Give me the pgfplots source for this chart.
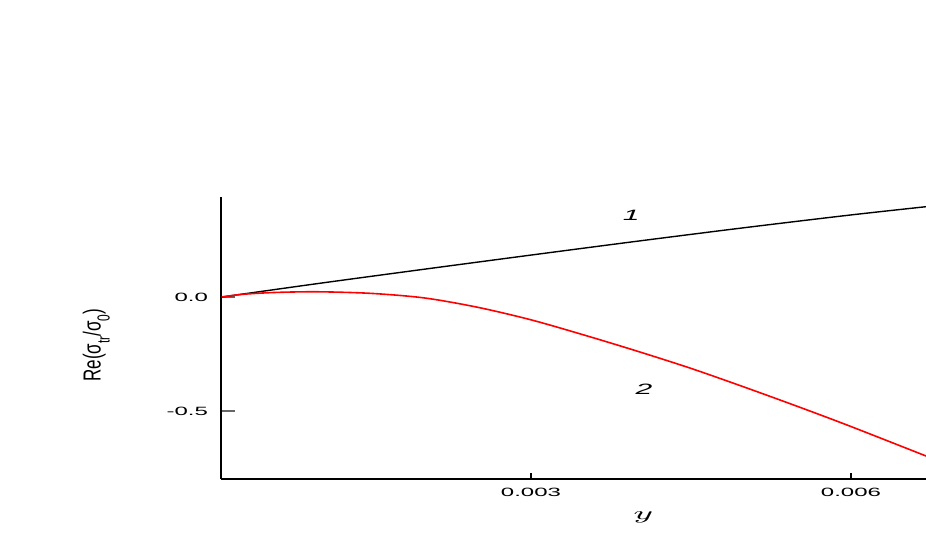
\documentclass[border=0pt]{standalone}
\usepackage{fontspec}
\setmainfont{Liberation Sans}
\usepackage{graphicx}
\usepackage{pgfplots}
\pgfplotsset{compat=1.18}
% the original picture is stretched about 2x horizontally
\newcommand{\wide}[1]{\scalebox{2}[1]{#1}}

\begin{document}
\begin{tikzpicture}[x=1pt,y=1pt]
\useasboundingbox (0,0) rectangle (463,272.5);
\begin{axis}[
    at={(110.5pt,33pt)}, anchor=south west,
    scale only axis,
    width=352.5pt, height=141pt,
    xmin=0.0000938, xmax=0.006703,
    ymin=-0.798, ymax=0.4386,
    axis lines=left,
    axis line style={-, line width=0.8pt},
    xtick={0.003,0.006},
    xticklabels={\wide{0.003},\wide{0.006}},
    ytick={-0.5,0},
    yticklabels={\wide{-0.5},\wide{0.0}},
    tick align=inside,
    xtick style={black, line width=0.8pt, /pgfplots/major tick length=3pt},
    ytick style={gray!80!black, line width=0.8pt, /pgfplots/major tick length=7pt},
    tick label style={font=\fontsize{6}{7}\selectfont},
    xticklabel style={yshift=-1.2pt},
    yticklabel style={xshift=-3pt},
    scaled x ticks=false,
    xlabel={\scalebox{2}[1]{$y$}},
    xlabel style={at={(axis description cs:0.599,-0.135)}, anchor=center, font=\fontsize{9}{10}\selectfont},
    ylabel={\scalebox{1}[1.45]{Re(σ\raisebox{-0.7ex}{\fontsize{6}{6}\selectfont tr}/σ\raisebox{-0.7ex}{\fontsize{6}{6}\selectfont 0})}},
    ylabel style={at={(axis description cs:-0.177,0.475)}, anchor=center, font=\fontsize{8.5}{9}\selectfont},
    clip=true,
]
% curve 1
\addplot[black, line width=0.7pt, smooth] coordinates {
    (0.0001,0) (0.001,0.059) (0.002,0.122) (0.003,0.184) (0.004,0.245)
    (0.005,0.304) (0.006,0.360) (0.0068,0.401)
};
% curve 2
\addplot[red, line width=0.8pt, smooth] coordinates {
    (0.0001,0) (0.0003,0.012) (0.0006,0.020) (0.001,0.023) (0.0015,0.016)
    (0.002,-0.004) (0.0025,-0.045) (0.003,-0.100) (0.0035,-0.167)
    (0.004,-0.238) (0.0045,-0.313) (0.005,-0.395) (0.0055,-0.480)
    (0.006,-0.568) (0.0068,-0.715)
};
\node[font=\fontsize{7.5}{8}\selectfont\itshape] at (axis cs:0.00394,0.36) {\wide{1}};
\node[font=\fontsize{7.5}{8}\selectfont\itshape] at (axis cs:0.00406,-0.4035) {\wide{2}};
\end{axis}
\end{tikzpicture}
\end{document}
